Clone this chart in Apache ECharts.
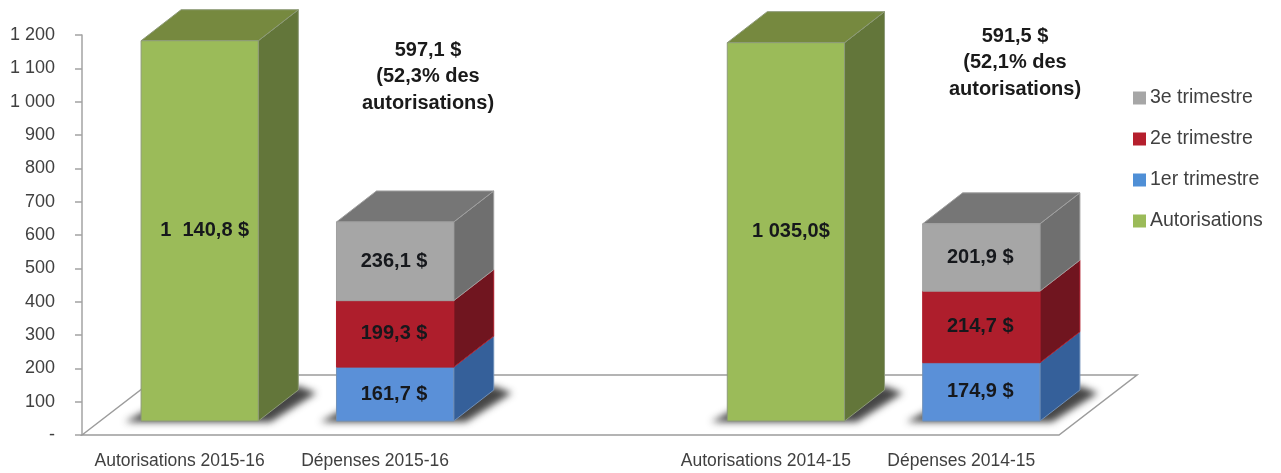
<!DOCTYPE html>
<html>
<head>
<meta charset="utf-8">
<style>
  html, body { margin: 0; padding: 0; background: #fff; }
  #chart { width: 1281px; height: 473px; }
</style>
<script src="https://cdn.jsdelivr.net/npm/echarts@6/dist/echarts.min.js"></script>
</head>
<body>
<div id="chart"></div>
<script>
const categories = ['Autorisations 2015-16', 'Dépenses 2015-16', '', 'Autorisations 2014-15', 'Dépenses 2014-15'];

// la barre 2014-15 est dessinée vers 1 135 dans l'original, mais étiquetée 1 035,0$
const autorisations = [1140.8, null, null, 1135, null];
const trimestre1 = [null, 161.7, null, null, 174.9];
const trimestre2 = [null, 199.3, null, null, 214.7];
const trimestre3 = [null, 236.1, null, null, 201.9];

const autorisationsLabels = ['1  140,8 $', '', '', '1 035,0$', ''];
const trimestre1Labels = ['', '161,7 $', '', '', '174,9 $'];
const trimestre2Labels = ['', '199,3 $', '', '', '214,7 $'];
const trimestre3Labels = ['', '236,1 $', '', '', '201,9 $'];

const noteLeft = '597,1 $\n(52,3% des\nautorisations)';
const noteRight = '591,5 $\n(52,1% des\nautorisations)';

const legendOrder = ['3e trimestre', '2e trimestre', '1er trimestre', 'Autorisations'];
const FONT = '"Liberation Sans", Arial, sans-serif';

// décalages de la fausse 3D, en pixels
const SHIFT = [20, -14];
const DEPTH = [40, -31];
const FLOOR = [78, -60];
const OFFSCREEN = 3000; // l'ombre est tracée hors cadre, seul son flou revient dans l'image

const poly = (points, fill, stroke, lineWidth) => ({
    type: 'polygon',
    shape: { points: points },
    style: { fill: fill, stroke: stroke || fill, lineWidth: lineWidth || 1 }
});

function boxRenderer(colors, labels, showTop, showShadow) {
    return function (params, api) {
        const i = api.value(0);
        const bottom = api.coord([i, api.value(1)]);
        const top = api.coord([i, api.value(2)]);
        const w = api.size([1, 0])[0] * 0.6;
        const x0 = bottom[0] - w / 2 + SHIFT[0];
        const x1 = x0 + w;
        const y0 = bottom[1] + SHIFT[1];
        const y1 = top[1] + SHIFT[1];
        const dx = DEPTH[0];
        const dy = DEPTH[1];
        const children = [];
        if (showShadow) {
            const pts = [[x0 - 16, y0 + 1], [x0 + 4, y0 - 10], [x1 + dx, y0 + dy - 4], [x1 + dx + 18, y0 + dy + 3], [x1 + 12, y0 + 1]];
            children.push({
                type: 'polygon',
                shape: { points: pts.map(p => [p[0] - OFFSCREEN, p[1]]) },
                style: { fill: '#555', shadowBlur: 7, shadowColor: 'rgba(50,50,50,0.9)', shadowOffsetX: OFFSCREEN }
            });
        }
        children.push(poly([[x1, y0], [x1 + dx, y0 + dy], [x1 + dx, y1 + dy], [x1, y1]], colors.side, colors.edge));
        if (showTop) {
            children.push(poly([[x0, y1], [x0 + dx, y1 + dy], [x1 + dx, y1 + dy], [x1, y1]], colors.top, colors.edge));
        }
        children.push(poly([[x0, y0], [x1, y0], [x1, y1], [x0, y1]], colors.front, colors.edge));
        children.push({
            type: 'text',
            style: {
                x: (x0 + x1) / 2 + colors.labelDx,
                y: (y0 + y1) / 2,
                text: labels[i],
                align: 'center',
                verticalAlign: 'middle',
                fill: '#16181c',
                font: 'bold 20px ' + FONT
            }
        });
        return { type: 'group', children: children };
    };
}

function floorRenderer(params) {
    const c = params.coordSys;
    const bottom = c.y + c.height;
    return poly([
        [c.x, bottom],
        [c.x + FLOOR[0], bottom + FLOOR[1]],
        [c.x + c.width + FLOOR[0], bottom + FLOOR[1]],
        [c.x + c.width, bottom]
    ], '#ffffff', '#9c9c9c', 1.5);
}

// empile les valeurs d'une série sur les précédentes
function stacked(values, below) {
    const out = [];
    values.forEach(function (v, i) {
        if (v === null) return;
        let base = 0;
        below.forEach(function (b) { base += b[i] || 0; });
        out.push([i, base, base + v]);
    });
    return out;
}

function box(name, values, below, colors, labels, showTop, showShadow) {
    return {
        name: name,
        type: 'custom',
        renderItem: boxRenderer(colors, labels, showTop, showShadow),
        data: stacked(values, below),
        encode: { x: 0, y: [1, 2] },
        itemStyle: { color: colors.legend },
        clip: false,
        z: 3
    };
}

const green = { front: '#9bbb59', side: '#63763a', top: '#76893f', edge: '#8d9a78', legend: '#9bbb59', labelDx: 5 };
const blue = { front: '#5a90d8', side: '#35609a', top: '#35609a', edge: '#6f8fb8', legend: '#4f8fd6', labelDx: -1 };
const red = { front: '#ae1e2c', side: '#70151f', top: '#70151f', edge: '#ae1e2c', legend: '#b51f2d', labelDx: -1 };
const gray = { front: '#a6a6a6', side: '#6f6f6f', top: '#767676', edge: '#a0a0a0', legend: '#a6a6a6', labelDx: -1 };

const noteStyle = { align: 'center', fill: '#1a1a1a', font: 'bold 20px ' + FONT, lineHeight: 26.5 };

const option = {
    backgroundColor: '#ffffff',
    animation: false,
    grid: { left: 82, right: 222, top: 35, bottom: 38, containLabel: false },
    legend: {
        orient: 'vertical',
        left: 1128,
        top: 83,
        itemWidth: 13,
        itemHeight: 13,
        itemGap: 21,
        icon: 'rect',
        data: legendOrder,
        textStyle: { fontFamily: FONT, fontSize: 19.5, color: '#404040', padding: [0, 0, 0, -1] }
    },
    xAxis: {
        type: 'category',
        data: categories,
        axisLine: { show: false },
        axisTick: { show: false },
        axisLabel: { interval: 0, margin: 17, fontFamily: FONT, fontSize: 17.5, color: '#404040' }
    },
    yAxis: {
        type: 'value',
        min: 0,
        max: 1200,
        interval: 100,
        splitLine: { show: false },
        axisLine: { show: true, lineStyle: { color: '#a3a3a3', width: 1.5 } },
        axisTick: { show: true, length: 7, lineStyle: { color: '#a3a3a3', width: 1.5 } },
        axisLabel: {
            margin: 27,
            fontFamily: FONT,
            fontSize: 18,
            color: '#404040',
            formatter: function (v) {
                if (v === 0) return '-';
                return v >= 1000 ? Math.floor(v / 1000) + ' ' + String(v % 1000).padStart(3, '0') : String(v);
            }
        }
    },
    series: [
        { type: 'custom', name: 'sol', renderItem: floorRenderer, data: [[0, 0]], clip: false, z: 1 },
        box('Autorisations', autorisations, [], green, autorisationsLabels, true, true),
        box('1er trimestre', trimestre1, [], blue, trimestre1Labels, false, true),
        box('2e trimestre', trimestre2, [trimestre1], red, trimestre2Labels, false, false),
        box('3e trimestre', trimestre3, [trimestre1, trimestre2], gray, trimestre3Labels, true, false)
    ],
    graphic: [
        { type: 'text', x: 428, y: 37, style: Object.assign({ text: noteLeft }, noteStyle) },
        { type: 'text', x: 1015, y: 23, style: Object.assign({ text: noteRight }, noteStyle) }
    ]
};

const myChart = echarts.init(document.getElementById('chart'));
myChart.setOption(option);
window.addEventListener('resize', () => myChart.resize());
</script>
</body>
</html>
